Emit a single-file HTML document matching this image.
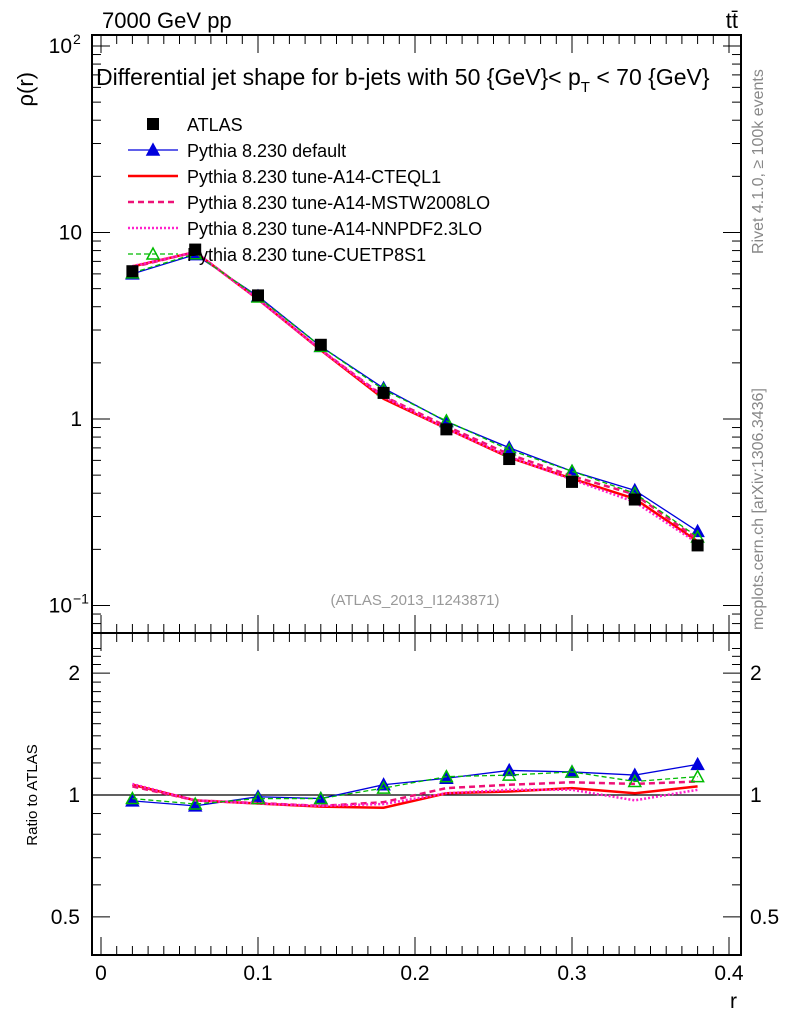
<!DOCTYPE html>
<html><head><meta charset="utf-8"><style>
body{margin:0;background:#fff;}
svg{display:block;font-family:"Liberation Sans",sans-serif;}
</style></head><body>
<svg id="c" width="786" height="1024" viewBox="0 0 786 1024"></svg>
<script>
const rVals=[0.02,0.06,0.1,0.14,0.18,0.22,0.26,0.3,0.34,0.38];
const atlas=[6.2,8.1,4.6,2.5,1.38,0.88,0.61,0.46,0.37,0.21];
const ratioDefault=[0.967,0.94,0.99,0.98,1.06,1.10,1.15,1.14,1.12,1.19];
const ratioCTEQ=[1.06,0.97,0.953,0.936,0.93,1.01,1.02,1.04,1.01,1.05];
const ratioMSTW=[1.05,0.97,0.955,0.94,0.96,1.04,1.06,1.075,1.065,1.08];
const ratioNNPDF=[1.065,0.97,0.953,0.94,0.95,1.01,1.03,1.03,0.97,1.03];
const ratioCUETP=[0.98,0.95,0.98,0.98,1.04,1.11,1.12,1.14,1.08,1.11];
const xTicks=[0,0.1,0.2,0.3,0.4];
const xTickLabels=["0","0.1","0.2","0.3","0.4"];

const NS="http://www.w3.org/2000/svg";
const svg=document.getElementById('c');
const L=92,R=741,T=35,MB=633,RB=955;
const X=r=>101+r*1570;
const Y=v=>419-186.5*Math.log10(v);
const YR=v=>795-405*Math.log10(v);
function el(tag,attrs,parent){const e=document.createElementNS(NS,tag);for(const k in attrs)e.setAttribute(k,attrs[k]);(parent||svg).appendChild(e);return e;}
function txt(s,attrs){const e=el('text',attrs);e.textContent=s;return e;}

const f1=el('rect',{x:L,y:T,width:R-L,height:MB-T,fill:'none',stroke:'#000','stroke-width':2});


const f2=el('rect',{x:L,y:MB,width:R-L,height:RB-MB,fill:'none',stroke:'#000','stroke-width':2});



for(let i=0;i<=40;i++){
  const r=i*0.01, x=X(r); if(x<L||x>R) continue;
  const big=i%10==0, len=big?18:9;
  el('line',{x1:x,y1:T,x2:x,y2:T+len,stroke:'#000'});
  el('line',{x1:x,y1:MB,x2:x,y2:MB-len,stroke:'#000'});
  el('line',{x1:x,y1:MB,x2:x,y2:MB+len,stroke:'#000'});
  el('line',{x1:x,y1:RB,x2:x,y2:RB-len,stroke:'#000'});
}
xTicks.forEach((t,i)=>{const e=txt(xTickLabels[i],{x:X(t),y:980,'font-size':21,'text-anchor':'middle'});

});
const xt=txt('r',{x:737,y:1008,'font-size':21,'text-anchor':'end'});



for(let d=-2;d<=2;d++){for(let m=1;m<=9;m++){const v=m*Math.pow(10,d);const y=Y(v);if(y<T||y>MB)continue;const len=m==1?18:9;
el('line',{x1:L,y1:y,x2:L+len,y2:y,stroke:'#000'});el('line',{x1:R,y1:y,x2:R-len,y2:y,stroke:'#000'});}}
[[Y(100),'10','2'],[Y(10),'10',''],[Y(1),'1',''],[Y(0.1),'10','−1']].forEach(a=>{
 const e=txt(a[1],{x:a[2]?72:82,y:a[0]+7,'font-size':21,'text-anchor':'end'});
 
 
 if(a[2]){const s=txt(a[2],{x:73,y:a[0]-2,'font-size':14});}
});
const yt=txt('ρ(r)',{x:0,y:0,'font-size':22,transform:'translate(33,72) rotate(-90)','text-anchor':'end'});



for(let i=4;i<=23;i++){const v=i/10;const y=YR(v);if(y<MB||y>RB)continue;const big=(v==0.5||v==1||v==2);const len=big?18:9;
el('line',{x1:L,y1:y,x2:L+len,y2:y,stroke:'#000'});el('line',{x1:R,y1:y,x2:R-len,y2:y,stroke:'#000'});}
[[2,'2'],[1,'1'],[0.5,'0.5']].forEach(a=>{
 const y=YR(a[0]);
 const e1=txt(a[1],{x:80,y:y+7,'font-size':21,'text-anchor':'end'});
 const e2=txt(a[1],{x:750,y:y+7,'font-size':21});
});
const rt=txt('Ratio to ATLAS',{x:0,y:0,'font-size':15,transform:'translate(37,795) rotate(-90)','text-anchor':'middle'});


const ref=el('line',{x1:L,y1:YR(1),x2:R,y2:YR(1),stroke:'#000','stroke-width':1.3});



const t1=txt('7000 GeV pp',{x:102,y:28,'font-size':22});
const t2=txt('tt̄',{x:738,y:28,'font-size':22,'text-anchor':'end'});
const t3=el('text',{x:96,y:85,'font-size':23});t3.innerHTML='Differential jet shape for b-jets with 50 {GeV}&lt; p<tspan font-size="15" dy="7">T</tspan><tspan dy="-7"> &lt; 70 {GeV}</tspan>';

const t4=txt('(ATLAS_2013_I1243871)',{x:415,y:605,'font-size':15,fill:'#999','text-anchor':'middle'});
const t5=txt('Rivet 4.1.0, ≥ 100k events',{x:0,y:0,'font-size':16,fill:'#888',transform:'translate(763,254) rotate(-90)'});
const t6=txt('mcplots.cern.ch [arXiv:1306.3436]',{x:0,y:0,'font-size':16,fill:'#888',transform:'translate(763,630) rotate(-90)'});

const series=[
 {name:'Pythia 8.230 default',ratio:ratioDefault,color:'#0000dd',w:1.3,dash:'',marker:'tri',key:'default'},
 {name:'Pythia 8.230 tune-A14-CTEQL1',ratio:ratioCTEQ,color:'#ff0000',w:2.5,dash:'',marker:'none',key:'cteql1'},
 {name:'Pythia 8.230 tune-A14-MSTW2008LO',ratio:ratioMSTW,color:'#ee1177',w:2.5,dash:'6,4',marker:'none',key:'mstw2008lo'},
 {name:'Pythia 8.230 tune-A14-NNPDF2.3LO',ratio:ratioNNPDF,color:'#ff22cc',w:2.5,dash:'2,2',marker:'none',key:'nnpdf23lo'},
 {name:'Pythia 8.230 tune-CUETP8S1',ratio:ratioCUETP,color:'#00bb00',w:1.3,dash:'5,3',marker:'otri',key:'cuetp8s1'},
];
function tri(x,y,s,filled,parent){return el('path',{d:`M${x} ${y-6}L${x+6} ${y+5}L${x-6} ${y+5}Z`,fill:filled?s.color:'#fff','fill-opacity':filled?1:0,stroke:s.color,'stroke-width':1.5},parent);}
series.forEach(s=>{
 const vals=s.ratio.map((q,i)=>q*atlas[i]);
 [[vals,Y,'main'],[s.ratio,YR,'ratio']].forEach(([arr,fy,pane])=>{
  const g=el('g',{});
  
  
  el('polyline',{points:arr.map((v,i)=>X(rVals[i])+','+fy(v)).join(' '),fill:'none',stroke:s.color,'stroke-width':s.w,'stroke-dasharray':s.dash},g);
  arr.forEach((v,i)=>{
   if(s.marker=='tri')tri(X(rVals[i]),fy(v),s,true,g);
   else if(s.marker=='otri')tri(X(rVals[i]),fy(v),s,false,g);
  });
 });
});
const ag=el('g',{});


atlas.forEach((v,i)=>{el('rect',{x:X(rVals[i])-6,y:Y(v)-6,width:12,height:12,fill:'#000'},ag);});

const legY=[124,150,176,202,228,254];
const lg=el('g',{});


el('rect',{x:147,y:legY[0]-6,width:12,height:12,fill:'#000'},lg);
const la=txt('ATLAS',{x:187,y:legY[0]+7,'font-size':18});


series.forEach((s,i)=>{const y=legY[i+1];
 el('line',{x1:128,y1:y,x2:178,y2:y,stroke:s.color,'stroke-width':s.w,'stroke-dasharray':s.dash},lg);
 if(s.marker=='tri')tri(153,y,s,true,lg);
 if(s.marker=='otri')tri(153,y,s,false,lg);
 const t=txt(s.name,{x:187,y:y+7,'font-size':18});
 
 
});
</script>
</body></html>
